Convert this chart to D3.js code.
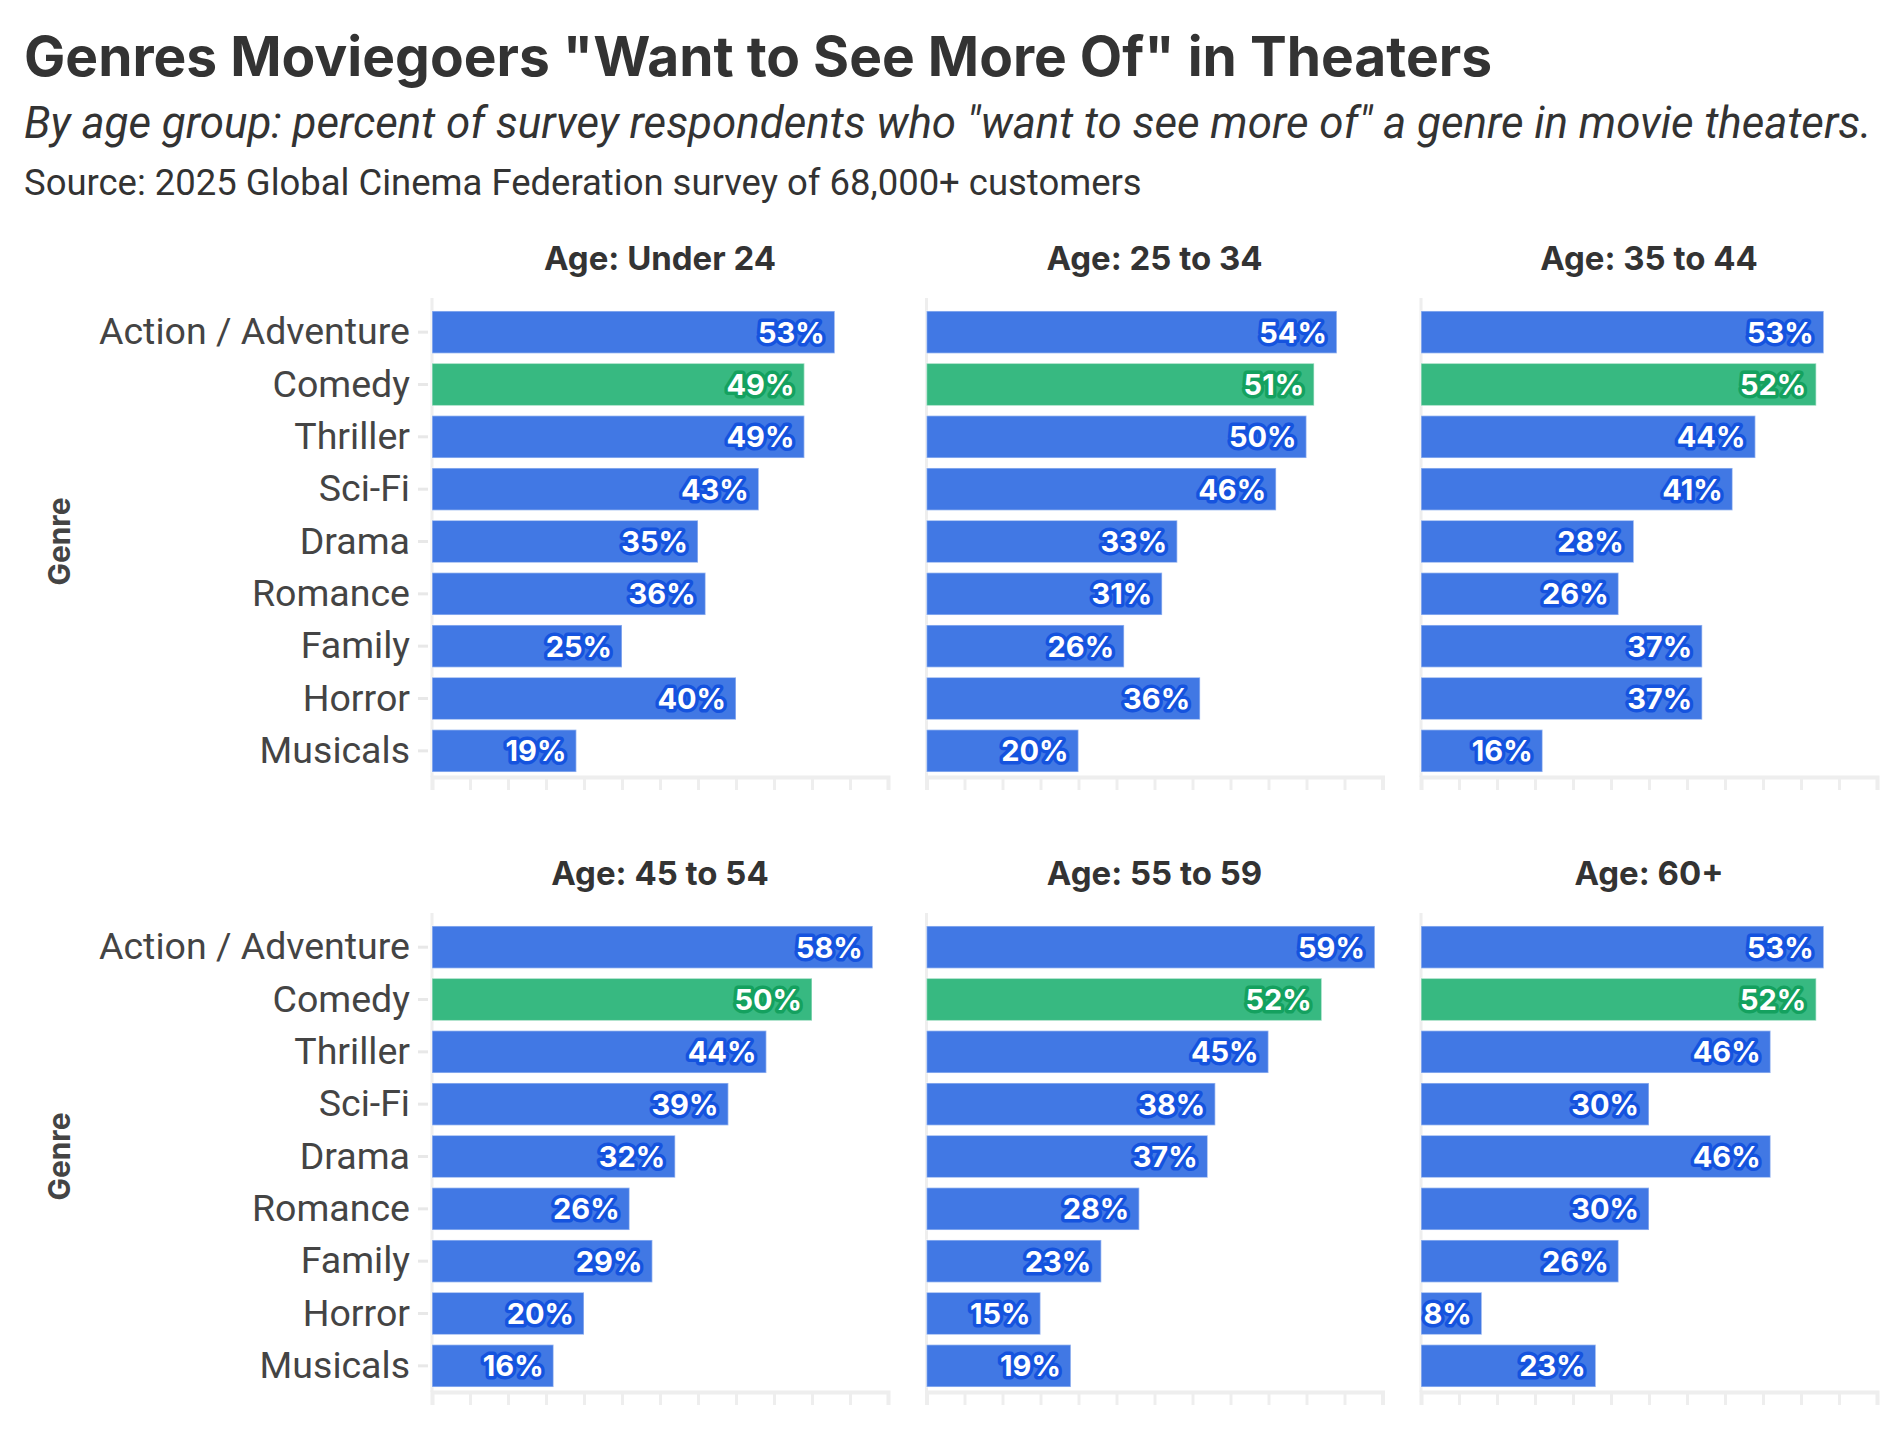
<!DOCTYPE html>
<html>
<head>
<meta charset="utf-8">
<script src="https://cdn.jsdelivr.net/npm/d3@7"></script>
<style>
  body { margin: 0; background: #fff; }
  svg { display: block; }
</style>
</head>
<body>
<div id="chart"></div>
<script>
"use strict";

var genres = ["Action / Adventure", "Comedy", "Thriller", "Sci-Fi", "Drama", "Romance", "Family", "Horror", "Musicals"];
var ageGroups = ["Age: Under 24", "Age: 25 to 34", "Age: 35 to 44", "Age: 45 to 54", "Age: 55 to 59", "Age: 60+"];

// percent per genre, same order as genres
var under24 = [53, 49, 49, 43, 35, 36, 25, 40, 19];
var age25to34 = [54, 51, 50, 46, 33, 31, 26, 36, 20];
var age35to44 = [53, 52, 44, 41, 28, 26, 37, 37, 16];
var age45to54 = [58, 50, 44, 39, 32, 26, 29, 20, 16];
var age55to59 = [59, 52, 45, 38, 37, 28, 23, 15, 19];
var age60plus = [53, 52, 46, 30, 46, 30, 26, 8, 23];
var seriesValues = [under24, age25to34, age35to44, age45to54, age55to59, age60plus];

var highlight = "Comedy";
var xTicks = d3.range(0, 0.6001, 0.05);

var W = 1904, H = 1434;
var svg = d3.select("#chart").append("svg").attr("width", W).attr("height", H);

var font = "Roboto, 'Noto Sans', sans-serif";
var boldFont = "Inter, 'Noto Sans', sans-serif";

// fit a text element to a given width by changing its font size
function fit(sel, width) {
    var fs = parseFloat(sel.attr("font-size"));
    var w = sel.node().getComputedTextLength();
    sel.attr("font-size", (fs * width / w).toFixed(2));
    return fs * width / w;
}

var title = svg.append("text").attr("x", 24).attr("y", 76)
    .attr("font-family", boldFont).attr("font-weight", 700).attr("font-size", 48)
    .attr("fill", "#333").text('Genres Moviegoers "Want to See More Of" in Theaters');
fit(title, 1468);

var sub = svg.append("text").attr("x", 24).attr("y", 138)
    .attr("font-family", font).attr("font-style", "italic").attr("font-size", 36)
    .attr("fill", "#333").text('By age group: percent of survey respondents who "want to see more of" a genre in movie theaters.');
fit(sub, 1848);

var src = svg.append("text").attr("x", 24).attr("y", 195)
    .attr("font-family", font).attr("font-size", 28)
    .attr("fill", "#333").text("Source: 2025 Global Cinema Federation survey of 68,000+ customers");
fit(src, 1118);

var panelX = [432, 926.5, 1421];
var panelW = 456;
var rowTop = [306, 921];
var rowH = 471;

var x = d3.scaleLinear().domain([0, 0.6]).range([0, panelW]);
var y = d3.scaleBand().domain(genres).range([0, rowH]).paddingInner(0.19).paddingOuter(0.095);

var blue = "#4178e4", blueDark = "#1553de";
var green = "#37b981", greenDark = "#14a15f";

// font size for genre labels, fitted on the longest one
var probe = svg.append("text").attr("font-family", font).attr("font-size", 31).text(genres[0]);
var labelSize = fit(probe, 311);
probe.remove();

var panelTitleSize = null;

ageGroups.forEach(function(age, i) {
    var col = i % 3, row = Math.floor(i / 3);
    var g = svg.append("g").attr("transform", "translate(" + panelX[col] + "," + rowTop[row] + ")");
    var vals = seriesValues[i];

    var pt = g.append("text").attr("x", panelW / 2).attr("y", -36)
        .attr("text-anchor", "middle").attr("font-family", boldFont).attr("font-weight", 700)
        .attr("font-size", 30).attr("fill", "#333").text(age);
    if (panelTitleSize === null) panelTitleSize = fit(pt, 232);
    else pt.attr("font-size", panelTitleSize.toFixed(2));

    // y axis line
    g.append("line").attr("x1", 0).attr("x2", 0).attr("y1", -8).attr("y2", rowH)
        .attr("stroke", "#eee").attr("stroke-width", 3);

    if (col === 0) {
        var ya = g.append("g").call(d3.axisLeft(y).tickSize(10).tickPadding(8));
        ya.select(".domain").remove();
        ya.selectAll(".tick line").attr("stroke", "#e8e8e8").attr("stroke-width", 3).attr("transform", "translate(-4,0)");
        ya.selectAll(".tick text").attr("font-family", font).attr("font-size", labelSize).attr("fill", "#444")
            .attr("dx", -4);

        var gt = svg.append("text")
            .attr("transform", "translate(" + 70 + "," + (rowTop[row] + rowH / 2) + ") rotate(-90)")
            .attr("text-anchor", "middle").attr("font-family", boldFont).attr("font-weight", 700)
            .attr("font-size", 28).attr("fill", "#444").text("Genre");
        fit(gt, 88);
    }

    var xa = g.append("g").attr("transform", "translate(0," + rowH + ")")
        .call(d3.axisBottom(x).tickValues(xTicks).tickSize(13).tickFormat(""));
    xa.select(".domain").attr("stroke", "#eee").attr("stroke-width", 4);
    xa.selectAll(".tick line").attr("stroke", "#eee").attr("stroke-width", 3);

    var rows = genres.map(function(gn, k) { return { genre: gn, value: vals[k] / 100 }; });

    g.selectAll("rect.bar").data(rows).enter().append("rect")
        .attr("class", "bar")
        .attr("x", 0)
        .attr("y", function(d) { return y(d.genre); })
        .attr("width", function(d) { return x(d.value); })
        .attr("height", y.bandwidth())
        .attr("fill", function(d) { return d.genre === highlight ? green : blue; })
        .attr("stroke", "rgba(255,255,255,0.45)").attr("stroke-width", 1.5);

    g.selectAll("text.val").data(rows).enter().append("text")
        .attr("class", "val")
        .attr("x", function(d) { return x(d.value) - 10; })
        .attr("y", function(d) { return y(d.genre) + y.bandwidth() / 2; })
        .attr("dy", "0.36em")
        .attr("text-anchor", "end")
        .attr("font-family", boldFont).attr("font-weight", 700).attr("font-size", 29)
        .attr("fill", "#fff")
        .attr("stroke", function(d) { return d.genre === highlight ? greenDark : blueDark; })
        .attr("stroke-width", 7).attr("stroke-linejoin", "round")
        .attr("paint-order", "stroke")
        .text(function(d) { return Math.round(d.value * 100) + "%"; });
});
</script>
</body>
</html>
